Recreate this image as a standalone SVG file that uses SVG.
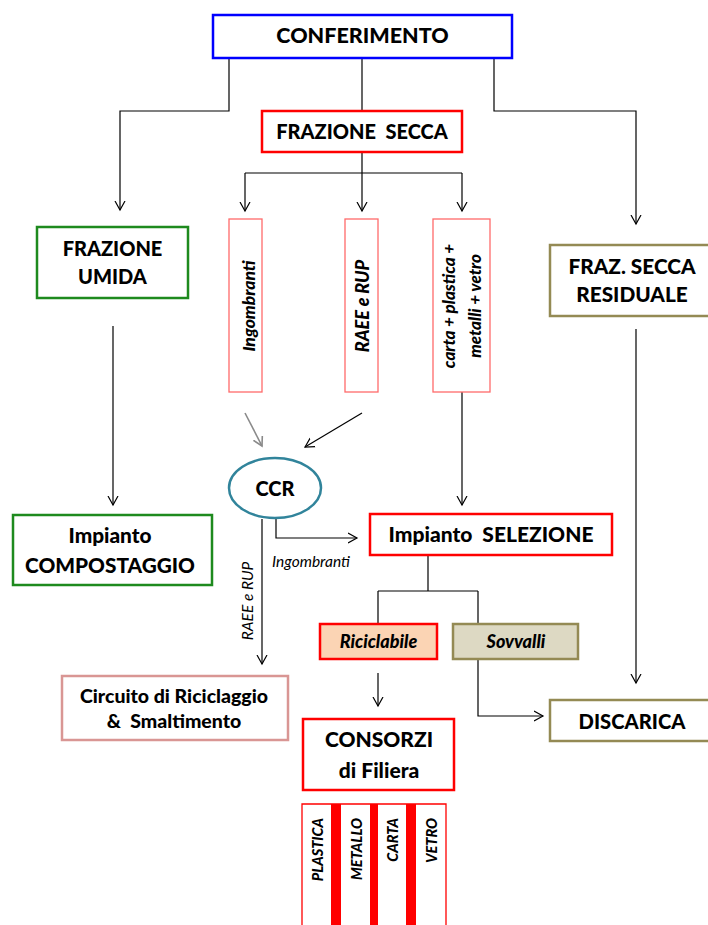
<svg xmlns="http://www.w3.org/2000/svg" width="708" height="925" viewBox="0 0 708 925">
<defs>
<marker id="arr" markerUnits="userSpaceOnUse" markerWidth="12" markerHeight="12" refX="9" refY="5" orient="auto" viewBox="0 0 12 10">
<path d="M0,0 L9,5 L0,10" fill="none" stroke="#000" stroke-width="1.2"/>
</marker>
<marker id="arrg" markerUnits="userSpaceOnUse" markerWidth="12" markerHeight="12" refX="9" refY="5" orient="auto" viewBox="0 0 12 10">
<path d="M0,0 L9,5 L0,10" fill="none" stroke="#8a8a8a" stroke-width="1.6"/>
</marker>
</defs>
<style>
text{font-family:Lato,"Open Sans","Liberation Sans",sans-serif;fill:#000;}
.b{font-weight:900;text-anchor:middle;}
.t20{font-size:20px;}
.bi{font-weight:900;font-style:italic;text-anchor:middle;}
.i{font-style:italic;text-anchor:middle;font-size:15.5px;}
.box{fill:#fff;stroke-width:2.5;}
.red{stroke:#ff0000;}
.blue{stroke:#0000ff;}
.green{stroke:#1e8a1e;}
.olive{stroke:#948a54;}
.lred{fill:#fff;stroke:#ff6a6a;stroke-width:1.3;}
.c{fill:none;stroke:#000;stroke-width:1.2;}
</style>

<g id="connectors">
<path class="c" d="M229,58 V111 H120 V210" marker-end="url(#arr)"/>
<path class="c" d="M362,58 V111"/>
<path class="c" d="M494,58 V111 H636 V224" marker-end="url(#arr)"/>
<path class="c" d="M362,152 V173 M245,173 H462"/>
<path class="c" d="M245,173 V211" marker-end="url(#arr)"/>
<path class="c" d="M362,173 V211" marker-end="url(#arr)"/>
<path class="c" d="M462,173 V211" marker-end="url(#arr)"/>
<path class="c" d="M113,326 V505" marker-end="url(#arr)"/>
<path class="c" d="M636,329 V683" marker-end="url(#arr)"/>
<path class="c" d="M462,392 V505" marker-end="url(#arr)"/>
<path fill="none" stroke="#8a8a8a" stroke-width="1.6" d="M245,413 L262,446" marker-end="url(#arrg)"/>
<path class="c" d="M362,413 L305,447" marker-end="url(#arr)"/>
<path class="c" d="M276,519 V538 H357" marker-end="url(#arr)"/>
<path class="c" d="M262,519 V664" marker-end="url(#arr)"/>
<path class="c" d="M428,555 V591 M378,591 H478 M378,591 V624 M478,591 V624"/>
<path class="c" d="M378,673 V706" marker-end="url(#arr)"/>
<path class="c" d="M478,659 V716 H543" marker-end="url(#arr)"/>
<text class="i" x="311" y="567">Ingombranti</text>
<text class="i" transform="translate(253,601) rotate(-90)">RAEE e RUP</text>
</g>

<g id="conferimento">
<rect class="box blue" x="213" y="15" width="299" height="43"/>
<text class="b" style="font-size:21.5px" x="362.5" y="43">CONFERIMENTO</text>
</g>

<g id="frazione-secca">
<rect class="box red" x="262" y="111" width="200" height="41"/>
<text class="b t20" x="362" y="139" xml:space="preserve">FRAZIONE  SECCA</text>
</g>

<g id="frazione-umida">
<rect class="box green" x="37" y="227" width="151" height="71"/>
<text class="b" style="font-size:20px" x="112.5" y="256">FRAZIONE</text>
<text class="b" style="font-size:20px" x="112.5" y="284">UMIDA</text>
</g>

<g id="ingombranti">
<rect class="lred" x="229" y="219" width="33" height="173"/>
<text class="bi" style="font-size:17.5px" transform="translate(255,306) rotate(-90)">Ingombranti</text>
</g>

<g id="raee">
<rect class="lred" x="345" y="219" width="33" height="173"/>
<text class="bi" style="font-size:18px" transform="translate(369,306) rotate(-90)">RAEE e RUP</text>
</g>

<g id="carta">
<rect class="lred" x="433" y="219" width="57" height="173"/>
<text class="bi" style="font-size:17px" transform="translate(455,306) rotate(-90)">carta + plastica +</text>
<text class="bi" style="font-size:17px" transform="translate(481,306) rotate(-90)">metalli + vetro</text>
</g>

<g id="frazione-secca-residuale">
<rect class="box olive" x="550" y="245" width="162" height="71"/>
<text class="b" style="font-size:20.8px" x="632" y="274">FRAZ. SECCA</text>
<text class="b" style="font-size:20.8px" x="632" y="302">RESIDUALE</text>
</g>

<g id="ccr">
<ellipse cx="275" cy="488" rx="46" ry="30" fill="#fff" stroke="#31849b" stroke-width="2.5"/>
<text class="b t20" x="275" y="496">CCR</text>
</g>

<g id="compostaggio">
<rect class="box green" x="13" y="515" width="199" height="70"/>
<text class="b" style="font-size:20.8px" x="110" y="543">Impianto</text>
<text class="b" style="font-size:20.8px" x="110" y="573">COMPOSTAGGIO</text>
</g>

<g id="selezione">
<rect class="box red" x="370" y="514" width="242" height="41"/>
<text class="b" style="font-size:21px" x="491" y="542" xml:space="preserve">Impianto  SELEZIONE</text>
</g>

<g id="riciclabile">
<rect x="320" y="624" width="117" height="35" fill="#fbd4b4" stroke="#ff0000" stroke-width="2.5"/>
<text class="bi" style="font-size:18px" x="378.5" y="648">Riciclabile</text>
</g>

<g id="sovvalli">
<rect x="453" y="624" width="125" height="35" fill="#ddd9c3" stroke="#948a54" stroke-width="2.5"/>
<text class="bi" style="font-size:18px" x="516" y="648">Sovvalli</text>
</g>

<g id="circuito">
<rect x="62" y="676" width="226" height="64" fill="#fff" stroke="#d99694" stroke-width="2.5"/>
<text class="b" style="font-size:19.5px" x="174" y="703">Circuito di Riciclaggio</text>
<text class="b" style="font-size:19.5px" x="174" y="728" xml:space="preserve">&amp;  Smaltimento</text>
</g>

<g id="consorzi">
<rect class="box red" x="303" y="719" width="151" height="71"/>
<text class="b" style="font-size:21px" x="379" y="747">CONSORZI</text>
<text class="b" style="font-size:21px" x="379" y="778">di Filiera</text>
</g>

<g id="discarica">
<rect class="box olive" x="550" y="700" width="162" height="41"/>
<text class="b" style="font-size:20.2px" x="632" y="729">DISCARICA</text>
</g>

<g id="filiere">
<path d="M302,925 V804 H446 V925" fill="none" stroke="#ff0000" stroke-width="1.3"/>
<rect x="331" y="804" width="10" height="121" fill="#ff0000"/>
<rect x="370" y="804" width="8" height="121" fill="#ff0000"/>
<rect x="406" y="804" width="10" height="121" fill="#ff0000"/>
<text class="bi" style="font-size:14.5px;text-anchor:end" transform="translate(323,818) rotate(-90)">PLASTICA</text>
<text class="bi" style="font-size:14.5px;text-anchor:end" transform="translate(362,818) rotate(-90)">METALLO</text>
<text class="bi" style="font-size:14.5px;text-anchor:end" transform="translate(398,818) rotate(-90)">CARTA</text>
<text class="bi" style="font-size:14.5px;text-anchor:end" transform="translate(437,818) rotate(-90)">VETRO</text>
</g>
</svg>
